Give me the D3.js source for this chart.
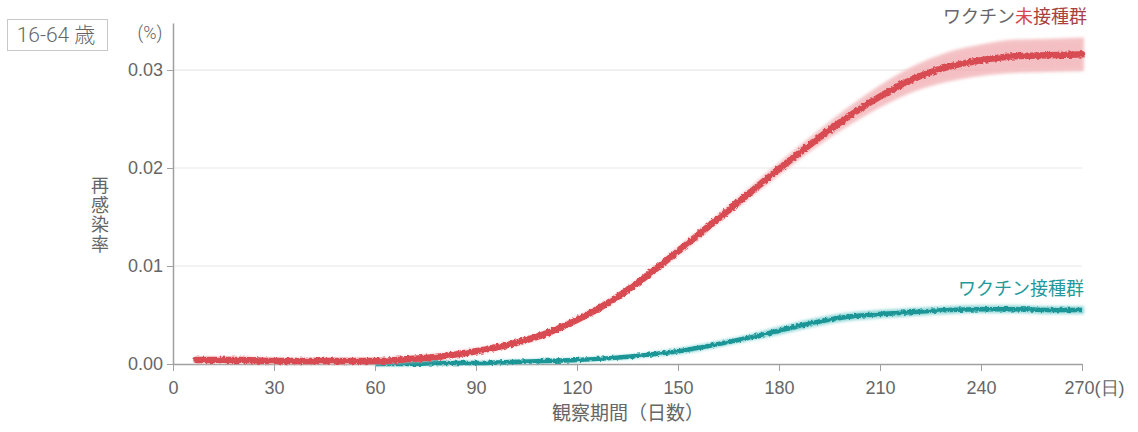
<!DOCTYPE html>
<html>
<head>
<meta charset="utf-8">
<script src="https://cdn.jsdelivr.net/npm/d3@7"></script>
<style>
  body { margin: 0; background: #fff; }
  svg { display: block; font-family: Roboto, "Noto Sans CJK JP", sans-serif; }
  .axis path, .axis line { stroke: #a0a0a0; }
  .axis text { fill: #666; font-size: 18px; font-weight: 300; }
</style>
</head>
<body>
<svg id="chart" width="1138" height="432"></svg>
<script>
// (days, % reinfection)
var yTicks = [0, 0.01, 0.02, 0.03];
var xTicks = [0, 30, 60, 90, 120, 150, 180, 210, 240, 270];

var unvaxDays = [7, 10, 20, 30, 40, 50, 60, 70, 80, 90, 100, 110, 120, 130, 140, 150, 160, 170, 180, 190, 200, 210, 220, 230, 240, 250, 260, 270];
var unvaxRate = [0.0004, 0.0004, 0.0004, 0.0003, 0.0003, 0.0003, 0.0003, 0.0005, 0.0008, 0.0013, 0.0020, 0.0030, 0.0045, 0.0064, 0.0088, 0.0115, 0.0143, 0.0171, 0.0199, 0.0226, 0.0251, 0.0273, 0.0291, 0.0303, 0.0310, 0.0314, 0.0315, 0.0316];
var unvaxLow  = [0.0003, 0.0003, 0.0003, 0.0002, 0.0002, 0.0002, 0.0002, 0.0004, 0.0007, 0.0012, 0.0019, 0.0029, 0.0044, 0.0063, 0.0087, 0.0113, 0.0141, 0.0168, 0.0195, 0.0221, 0.0244, 0.0264, 0.0280, 0.0290, 0.0296, 0.0299, 0.0300, 0.0301];
var unvaxHigh = [0.0005, 0.0005, 0.0005, 0.0004, 0.0004, 0.0004, 0.0004, 0.0006, 0.0009, 0.0014, 0.0021, 0.0031, 0.0046, 0.0065, 0.0089, 0.0117, 0.0145, 0.0174, 0.0203, 0.0231, 0.0258, 0.0282, 0.0302, 0.0316, 0.0324, 0.0329, 0.0330, 0.0331];

var vaxDays = [60, 70, 80, 90, 100, 110, 120, 130, 140, 150, 160, 170, 180, 190, 200, 210, 220, 230, 240, 250, 260, 270];
var vaxRate = [0.0000, 0.0000, 0.0001, 0.0001, 0.0002, 0.0003, 0.0004, 0.0006, 0.0009, 0.0013, 0.0019, 0.0026, 0.0034, 0.0042, 0.0048, 0.0051, 0.0053, 0.0055, 0.0056, 0.0056, 0.0055, 0.0055];
var vaxLow  = [0.0000, 0.0000, 0.0001, 0.0001, 0.0002, 0.0003, 0.0004, 0.0006, 0.0009, 0.0012, 0.0018, 0.0025, 0.0032, 0.0040, 0.0046, 0.0049, 0.0051, 0.0053, 0.0054, 0.0054, 0.0053, 0.0053];
var vaxHigh = [0.0000, 0.0000, 0.0001, 0.0001, 0.0002, 0.0003, 0.0004, 0.0006, 0.0009, 0.0014, 0.0020, 0.0027, 0.0036, 0.0044, 0.0050, 0.0053, 0.0055, 0.0057, 0.0058, 0.0058, 0.0057, 0.0057];

var svg = d3.select("#chart");

var x = d3.scaleLinear().domain([0, 270]).range([173, 1082]);
var y = d3.scaleLinear().domain([0, 0.0348]).range([364, 23]);

var defs = svg.append("defs");
// soft edge for the confidence bands
defs.append("filter").attr("id", "soft")
    .append("feGaussianBlur").attr("stdDeviation", 1.6);
// rough edge for the lines
var rough = defs.append("filter").attr("id", "rough")
    .attr("x", "-5%").attr("y", "-5%").attr("width", "110%").attr("height", "110%");
rough.append("feTurbulence").attr("type", "fractalNoise")
    .attr("baseFrequency", 0.35).attr("numOctaves", 2).attr("seed", 3).attr("result", "n");
rough.append("feDisplacementMap").attr("in", "SourceGraphic").attr("in2", "n")
    .attr("scale", 4).attr("xChannelSelector", "R").attr("yChannelSelector", "G");

//gridlines
svg.append("g").selectAll("line")
    .data(yTicks.slice(1))
    .enter().append("line")
    .attr("x1", x(0)).attr("x2", x(270))
    .attr("y1", function (d) { return y(d); })
    .attr("y2", function (d) { return y(d); })
    .attr("stroke", "#e8e8e8")
    .attr("stroke-width", 1.2);

//axes
var xAxis = svg.append("g")
    .attr("class", "axis")
    .attr("transform", "translate(0," + y(0) + ")")
    .call(d3.axisBottom(x).tickValues(xTicks).tickSize(7).tickSizeOuter(0)
        .tickFormat(function (d) { return d; }));
xAxis.select(".domain").attr("stroke-width", 1.5);
xAxis.selectAll("text").attr("dy", "1.1em");
xAxis.selectAll(".tick").filter(function (d) { return d === 270; })
    .select("text")
    .style("text-anchor", "start")
    .attr("x", -18)
    .append("tspan").text("(日)");

var yAxis = svg.append("g")
    .attr("class", "axis")
    .attr("transform", "translate(" + x(0) + ",0)")
    .call(d3.axisLeft(y).tickValues(yTicks).tickSize(6).tickSizeOuter(0)
        .tickFormat(d3.format(".2f")));
yAxis.select(".domain").attr("stroke-width", 1.5);
yAxis.selectAll("text").attr("x", -10);

//bands
function band(days, lo, hi) {
    return d3.area()
        .x(function (d, i) { return x(days[i]); })
        .y0(function (d, i) { return y(lo[i]); })
        .y1(function (d, i) { return y(hi[i]); })
        .curve(d3.curveMonotoneX)(days);
}
function line(days, vals) {
    return d3.line()
        .x(function (d, i) { return x(days[i]); })
        .y(function (d, i) { return y(vals[i]); })
        .curve(d3.curveMonotoneX)(days);
}

svg.append("path")
    .attr("d", band(vaxDays, vaxLow, vaxHigh))
    .attr("fill", "#8fd6d6").attr("fill-opacity", 0.8)
    .attr("stroke", "#8fd6d6").attr("stroke-width", 4)
    .attr("filter", "url(#soft)");
svg.append("path")
    .attr("d", line(vaxDays, vaxRate))
    .attr("fill", "none")
    .attr("stroke", "#1a9597")
    .attr("stroke-width", 4.5)
    .attr("filter", "url(#rough)");

svg.append("path")
    .attr("d", band(unvaxDays, unvaxLow, unvaxHigh))
    .attr("fill", "#f0a9ad").attr("fill-opacity", 0.75)
    .attr("stroke", "#f4c3c6").attr("stroke-width", 4)
    .attr("filter", "url(#soft)");
svg.append("path")
    .attr("d", line(unvaxDays, unvaxRate))
    .attr("fill", "none")
    .attr("stroke", "#d84b52")
    .attr("stroke-width", 6.5)
    .attr("stroke-linecap", "round")
    .attr("filter", "url(#rough)");

//labels
var lab1 = svg.append("text")
    .attr("x", 1087).attr("y", 23)
    .style("text-anchor", "end")
    .style("font-size", "18px");
lab1.append("tspan").attr("fill", "#666").text("ワクチン");
lab1.append("tspan").attr("fill", "#d8474d").text("未");
lab1.append("tspan").attr("fill", "#a8413f").text("接種群");

svg.append("text")
    .attr("x", 1084).attr("y", 295)
    .style("text-anchor", "end")
    .style("font-size", "18px")
    .attr("fill", "#23999b")
    .text("ワクチン接種群");

svg.append("rect")
    .attr("x", 7.5).attr("y", 19.5)
    .attr("width", 100).attr("height", 31)
    .attr("fill", "#fff").attr("stroke", "#c8c8c8");
svg.append("text")
    .attr("x", 56).attr("y", 42)
    .style("text-anchor", "middle")
    .style("font-size", "21px").style("font-weight", 300)
    .attr("fill", "#666")
    .text("16-64 歳");

svg.append("text")
    .attr("x", 150).attr("y", 39)
    .style("text-anchor", "middle")
    .style("font-size", "18px").style("font-weight", 300)
    .attr("fill", "#666")
    .text("(%)");

var yTitle = svg.append("text")
    .style("text-anchor", "middle")
    .style("font-size", "18px")
    .attr("fill", "#666");
["再", "感", "染", "率"].forEach(function (c, i) {
    yTitle.append("tspan").attr("x", 100).attr("y", 192 + i * 19.5).text(c);
});

svg.append("text")
    .attr("x", 628).attr("y", 420)
    .style("text-anchor", "middle")
    .style("font-size", "19px")
    .attr("fill", "#666")
    .text("観察期間（日数）");
</script>
</body>
</html>
